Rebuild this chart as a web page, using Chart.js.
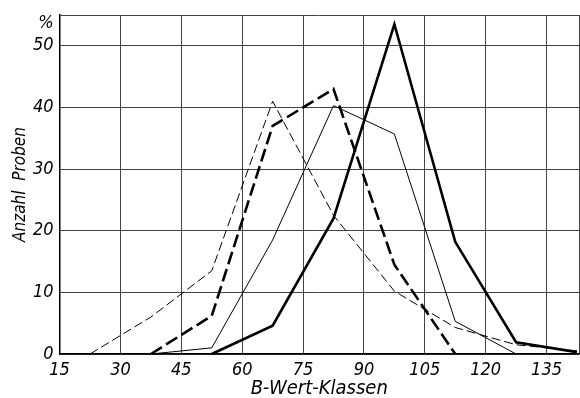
<!DOCTYPE html>
<html>
<head>
<meta charset="utf-8">
<script src="https://cdn.jsdelivr.net/npm/chart.js@4/dist/chart.umd.min.js"></script>
<style>
    html, body { margin: 0; padding: 0; background: #fff; }
    #wrap { width: 580px; height: 398px; }
</style>
</head>
<body>
<div id="wrap"><canvas id="chart"></canvas></div>
<script>
// class midpoints of the B-Wert classes
const classMids = [22.5, 37.5, 52.5, 67.5, 82.5, 97.5, 112.5, 127.5, 142.5];
const xTicks = [15, 30, 45, 60, 75, 90, 105, 120, 135];
const yTicks = [0, 10, 20, 30, 40, 50];

// percentage of samples per class (null = no point)
const thinDashed = [0, 6, 13.5, 41, 22.5, 10.2, 4.3, 1.5, 0.5];
const thickDashed = [null, 0, 6.2, 37, 43, 14.5, 0, null, null];
const thinSolid = [null, 0, 1, 18.5, 40.3, 35.7, 5.3, 0, null];
const thickSolid = [null, null, 0, 4.6, 22, 53.5, 18.2, 1.9, 0.3];

function toPoints(values) {
    const pts = [];
    values.forEach((v, i) => {
        if (v !== null) pts.push({ x: classMids[i], y: v });
    });
    return pts;
}

function lineSet(values, width, dash) {
    return {
        data: toPoints(values),
        borderColor: "#000",
        borderWidth: width,
        borderDash: dash,
        pointRadius: 0,
        tension: 0,
        fill: false,
        clip: false,
    };
}

const family = "'DejaVu Sans Condensed', 'Liberation Sans Narrow', 'DejaVu Sans', sans-serif";
const tickFont = { family: family, style: "italic", size: 18, lineHeight: 1 };

const gridStyle = {
    color: "#444",
    lineWidth: 1,
    drawTicks: false,
};

// the "%" unit sign above the 50 label
const percentSign = {
    id: "percentSign",
    afterDraw(chart) {
        const ctx = chart.ctx;
        const area = chart.chartArea;
        ctx.save();
        ctx.font = "italic 18px " + family;
        ctx.fillStyle = "#000";
        ctx.textAlign = "right";
        ctx.textBaseline = "middle";
        ctx.fillText("%", area.left - 6, area.top + 8);
        ctx.restore();
    },
};

new Chart(document.getElementById("chart"), {
    type: "line",
    data: {
        datasets: [
            lineSet(thinDashed, 1, [9, 4]),
            lineSet(thickDashed, 2.6, [13, 5]),
            lineSet(thinSolid, 1, []),
            lineSet(thickSolid, 2.6, []),
        ],
    },
    plugins: [percentSign],
    options: {
        responsive: true,
        maintainAspectRatio: false,
        animation: false,
        layout: { padding: { top: 9, right: 1, left: 12, bottom: 0 } },
        plugins: {
            legend: { display: false },
            tooltip: { enabled: false },
        },
        scales: {
            x: {
                type: "linear",
                min: 15,
                max: 143,
                afterBuildTicks: (axis) => {
                    axis.ticks = xTicks.concat([143]).map((v) => ({ value: v }));
                },
                afterFit: (axis) => {
                    axis.paddingRight = 0;
                },
                ticks: {
                    color: "#000",
                    font: tickFont,
                    padding: 7,
                    maxRotation: 0,
                    callback: (v) => (xTicks.includes(v) ? v : ""),
                },
                grid: gridStyle,
                border: { color: "#000", width: 1.5 },
                title: {
                    display: true,
                    text: "B-Wert-Klassen",
                    color: "#000",
                    font: { family: family, style: "italic", size: 20, lineHeight: 1 },
                    padding: { top: -7, bottom: -1 },
                },
            },
            y: {
                min: 0,
                max: 55,
                afterBuildTicks: (axis) => {
                    axis.ticks = yTicks.concat([55]).map((v) => ({ value: v }));
                },
                ticks: {
                    color: "#000",
                    font: tickFont,
                    padding: 6,
                    callback: (v) => (yTicks.includes(v) ? v : ""),
                },
                grid: gridStyle,
                border: { color: "#000", width: 1.5 },
                title: {
                    display: true,
                    text: "Anzahl  Proben",
                    color: "#000",
                    font: { family: family, style: "italic", size: 17, lineHeight: 1 },
                    padding: { top: 0, bottom: -2 },
                },
            },
        },
    },
});
</script>
</body>
</html>
